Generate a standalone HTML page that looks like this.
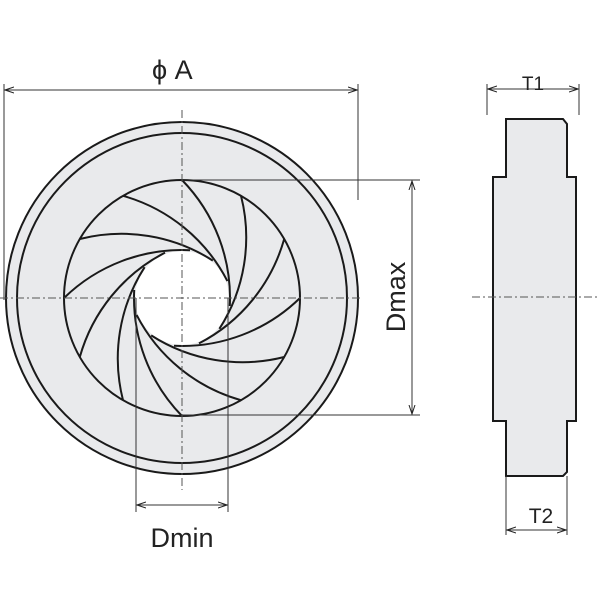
<!DOCTYPE html>
<html><head><style>body{margin:0;background:#fff}svg{display:block}</style></head><body>
<svg width="600" height="600" viewBox="0 0 600 600" xmlns="http://www.w3.org/2000/svg">
<defs>
<marker id="a" markerWidth="10" markerHeight="8" refX="9" refY="4" orient="auto-start-reverse" markerUnits="userSpaceOnUse"><path d="M0,1 L9,4 L0,7" fill="none" stroke="#222" stroke-width="1"/></marker>
</defs>
<g stroke="#1a1a1a" fill="none" stroke-width="2">
<circle cx="182" cy="298" r="176" fill="#e9eaec"/>
<circle cx="182" cy="298" r="165"/>
<circle cx="182" cy="298" r="118"/>
<circle cx="182" cy="298" r="47" fill="#fff" stroke="none"/>
<g transform="translate(182,298)">
<path id="b" d="M0,-118 A169,169 0 0,1 47.8,8"/>
<use href="#b" transform="rotate(30)"/><use href="#b" transform="rotate(60)"/><use href="#b" transform="rotate(90)"/>
<use href="#b" transform="rotate(120)"/><use href="#b" transform="rotate(150)"/><use href="#b" transform="rotate(180)"/>
<use href="#b" transform="rotate(210)"/><use href="#b" transform="rotate(240)"/><use href="#b" transform="rotate(270)"/>
<use href="#b" transform="rotate(300)"/><use href="#b" transform="rotate(330)"/>
</g>
<path d="M506,119 L563,119 L567,124 L567,177 L576,177 L576,421 L567,421 L567,472 L563,476 L506,476 L506,421 L493,421 L493,177 L506,177 Z" fill="#e9eaec"/>
</g>
<g stroke="#333" stroke-width="1" fill="none">
<path d="M4,84 V300 M358,84 V200"/>
<line x1="5" y1="90" x2="357" y2="90" marker-start="url(#a)" marker-end="url(#a)"/>
<path d="M182,180 H420 M182,415 H420"/>
<line x1="412" y1="181" x2="412" y2="414" marker-start="url(#a)" marker-end="url(#a)"/>
<path d="M136,298 V512 M228,298 V512"/>
<line x1="137" y1="505" x2="227" y2="505" marker-start="url(#a)" marker-end="url(#a)"/>
<path d="M487,84 V115 M579,84 V115"/>
<line x1="488" y1="89" x2="578" y2="89" marker-start="url(#a)" marker-end="url(#a)"/>
<path d="M506,476 V535 M567,476 V535"/>
<line x1="507" y1="530" x2="566" y2="530" marker-start="url(#a)" marker-end="url(#a)"/>
<g stroke-dasharray="8,3,2,3" stroke="#555">
<path d="M0,298 H362 M182,110 V490 M472,297 H600"/>
</g>
</g>
<g font-family="Liberation Sans, sans-serif" fill="#222" font-size="27">
<text x="152" y="79">ϕ A</text>
<text x="182" y="547" text-anchor="middle">Dmin</text>
<text transform="translate(405,297) rotate(-90)" text-anchor="middle">Dmax</text>
<text x="533" y="90" font-size="19" text-anchor="middle">T1</text>
<text x="541" y="523" font-size="21" text-anchor="middle">T2</text>
</g>
</svg>
</body></html>
